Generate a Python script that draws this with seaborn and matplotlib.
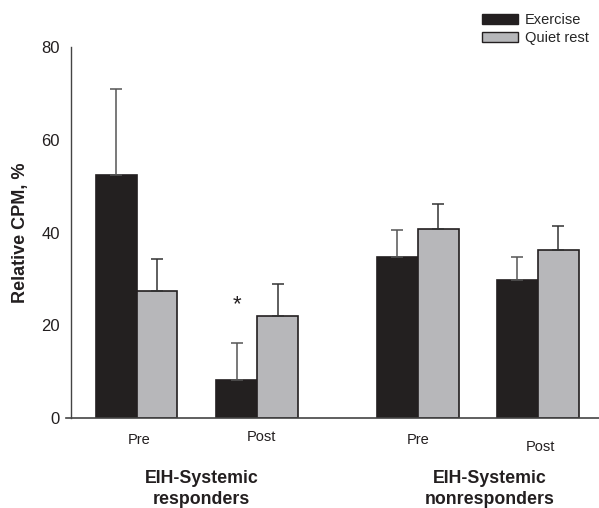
import matplotlib
matplotlib.use("Agg")

import numpy as np
import pandas as pd
import matplotlib.pyplot as plt
import seaborn as sns

# data
phases = ["Pre", "Post", "Pre", "Post"]
positions = [0.0, 1.0, 2.335, 3.33]
conditions = ["Exercise", "Quiet rest"]
exercise_mean = [52.3, 8.3, 34.7, 29.8]
exercise_sd = [18.7, 7.8, 5.8, 5.0]
rest_mean = [27.5, 22.1, 40.7, 36.3]
rest_sd = [6.8, 6.8, 5.5, 5.2]
group_labels = ["EIH-Systemic\nresponders", "EIH-Systemic\nnonresponders"]
sig_index = 1  # asterisk over Post exercise in responders

sns.set_style("white")
plt.rcParams["font.family"] = ["Liberation Sans", "DejaVu Sans"]

df = pd.DataFrame({
    "pos": positions * 2,
    "cond": [conditions[0]] * 4 + [conditions[1]] * 4,
    "value": exercise_mean + rest_mean,
    "sd": exercise_sd + rest_sd,
})

fig = plt.figure(figsize=(5.99, 5.08), dpi=100)
ax = fig.add_axes([0.1185, 0.177, 0.8815, 0.7305])

sns.barplot(data=df, x="pos", y="value", hue="cond", native_scale=True,
            width=0.68, palette=["#231f20", "#b6b7ba"], errorbar=None,
            edgecolor="#231f20", linewidth=1.2, ax=ax, legend=False)

# one-sided error bars
for cond, color in zip(conditions, ["#555555", "#333333"]):
    sub = df[df["cond"] == cond]
    off = -0.17 if cond == "Exercise" else 0.17
    ax.errorbar(sub["pos"] + off, sub["value"],
                yerr=[np.zeros(len(sub)), sub["sd"]], fmt="none",
                ecolor=color, elinewidth=1.1, capsize=4.6, capthick=1.1,
                zorder=1)

ax.text(positions[sig_index] - 0.17,
        exercise_mean[sig_index] + exercise_sd[sig_index] + 8.3,
        "*", ha="center", va="center", fontsize=16, color="#231f20")

ax.set_xlim(-0.544, 3.838)
ax.set_ylim(0, 80)
ax.set_yticks([0, 20, 40, 60, 80])
ax.tick_params(axis="y", direction="out", length=5, width=1,
               colors="#444444", labelsize=12, labelcolor="#231f20", pad=3)
ax.set_xticks([])
ax.set_xlabel("")
ax.set_ylabel("Relative CPM, %", fontsize=13, fontweight="bold",
              color="#231f20", labelpad=9)
for side in ["top", "right"]:
    ax.spines[side].set_visible(False)
ax.spines["left"].set_color("#444444")
ax.spines["bottom"].set_color("#444444")
ax.spines["left"].set_linewidth(1)
ax.spines["bottom"].set_linewidth(1.2)
ax.spines["bottom"].set_bounds(-0.585, 3.838)

phase_dx = [0.025, 0.035, 0.005, 0.025]
phase_dy = [-0.058, -0.052, -0.060, -0.077]
for p, lab, dx, dy in zip(positions, phases, phase_dx, phase_dy):
    ax.text(p + dx, dy, lab, transform=ax.get_xaxis_transform(), ha="center",
            va="center", fontsize=10.5, color="#231f20")

group_dx = [0.04, 0.097]
for i, lab in enumerate(group_labels):
    xc = (positions[2 * i] + positions[2 * i + 1]) / 2 + group_dx[i]
    ax.text(xc, -0.192, lab, transform=ax.get_xaxis_transform(), ha="center",
            va="center", fontsize=12.8, fontweight="bold", color="#231f20",
            linespacing=1.3)

handles = [plt.Rectangle((0, 0), 1, 1, facecolor="#231f20",
                         edgecolor="#231f20", linewidth=1),
           plt.Rectangle((0, 0), 1, 1, facecolor="#b6b7ba",
                         edgecolor="#231f20", linewidth=1)]
fig.legend(handles, conditions, loc="upper right",
           bbox_to_anchor=(1.005, 1.0), frameon=False, fontsize=10.5,
           handlelength=2.5, handleheight=0.65, handletextpad=0.45,
           labelspacing=0.25)

fig.savefig("out.png", dpi=100)
plt.close(fig)
